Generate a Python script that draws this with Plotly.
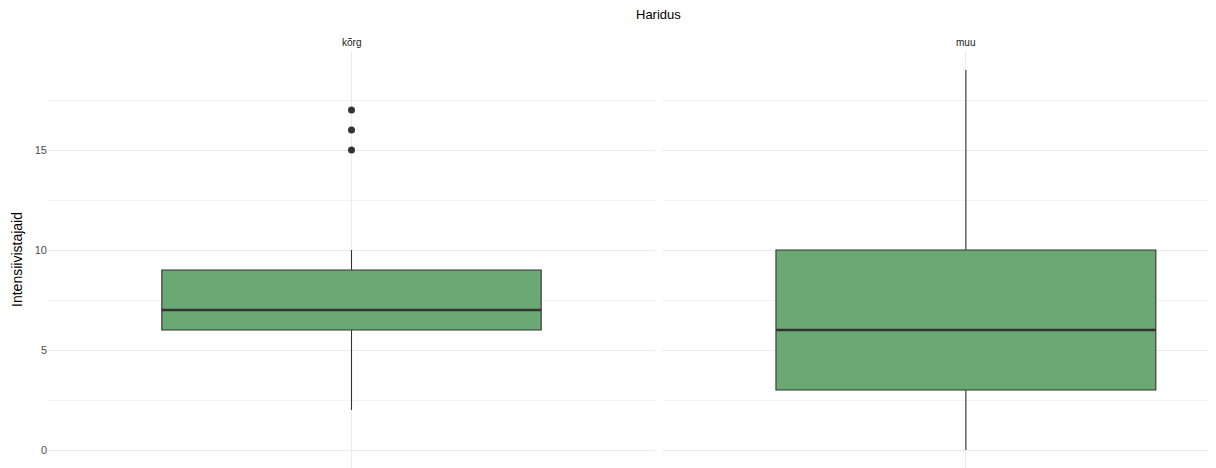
import plotly.graph_objects as go

# Box-plot summary per education group
groups = ["kõrg", "muu"]
lower_whisker = [2, 0]
q1 = [6, 3]
median = [7, 6]
q3 = [9, 10]
upper_whisker = [10, 19]
outliers = [[15, 16, 17], []]

fill = "#6aa874"
edge = "#333333"
grid = "#ebebeb"
tick_color = "#4d4d4d"

fig = go.Figure()
axes = [("x", "y"), ("x2", "y2")]
for i, g in enumerate(groups):
    xa, ya = axes[i]
    fig.add_trace(go.Box(
        x=[g], q1=[q1[i]], median=[median[i]], q3=[q3[i]],
        lowerfence=[lower_whisker[i]], upperfence=[upper_whisker[i]],
        width=0.75, fillcolor=fill, line=dict(color=edge, width=1.1),
        whiskerwidth=0, boxpoints=False, hoverinfo="skip",
        xaxis=xa, yaxis=ya, showlegend=False,
    ))
    if outliers[i]:
        fig.add_trace(go.Scatter(
            x=[g] * len(outliers[i]), y=outliers[i], mode="markers",
            marker=dict(color=edge, size=7), xaxis=xa, yaxis=ya,
            showlegend=False, hoverinfo="skip",
        ))
    # thicker median bar across the box width
    fig.add_shape(type="line", xref=xa, yref=ya, x0=-0.375, x1=0.375,
                  y0=median[i], y1=median[i], line=dict(color=edge, width=2.4))

yaxis_common = dict(
    range=[-0.9, 19.95], tickvals=[0, 5, 10, 15], showgrid=True,
    gridcolor=grid, gridwidth=1.1, zeroline=False, showline=False, ticks="",
    minor=dict(tickvals=[2.5, 7.5, 12.5, 17.5], showgrid=True,
               gridcolor="#f3f3f3", gridwidth=0.6),
)
xaxis_common = dict(
    type="category", showticklabels=False, ticks="", showgrid=True,
    gridcolor=grid, gridwidth=1.1, zeroline=False, showline=False,
)

fig.update_layout(
    template="none",
    width=1216, height=468,
    margin=dict(l=48, r=8, t=51, b=0),
    paper_bgcolor="white", plot_bgcolor="white",
    font=dict(family="Liberation Sans, Arial, sans-serif", color="black"),
    xaxis=dict(domain=[0, 607 / 1160], range=[-0.6, 0.6], **xaxis_common),
    xaxis2=dict(domain=[614 / 1160, 1], range=[-0.6, 0.478], **xaxis_common),
    yaxis=dict(title=dict(text="Intensiivistajaid", font=dict(size=14, color="black"), standoff=8),
               tickfont=dict(size=11, color=tick_color), **yaxis_common),
    yaxis2=dict(anchor="x2", matches="y", showticklabels=False, **yaxis_common),
    annotations=[
        dict(text="Haridus", x=(658 - 48) / 1160, y=1, xref="paper", yref="paper",
             yshift=46, showarrow=False, font=dict(size=13, color="black")),
        dict(text="kõrg", x="kõrg", xref="x", y=1, yref="paper", yshift=16,
             showarrow=False, font=dict(size=10, color="#1a1a1a")),
        dict(text="muu", x="muu", xref="x2", y=1, yref="paper", yshift=16,
             showarrow=False, font=dict(size=10, color="#1a1a1a")),
    ],
)

fig.write_html("out.html")
